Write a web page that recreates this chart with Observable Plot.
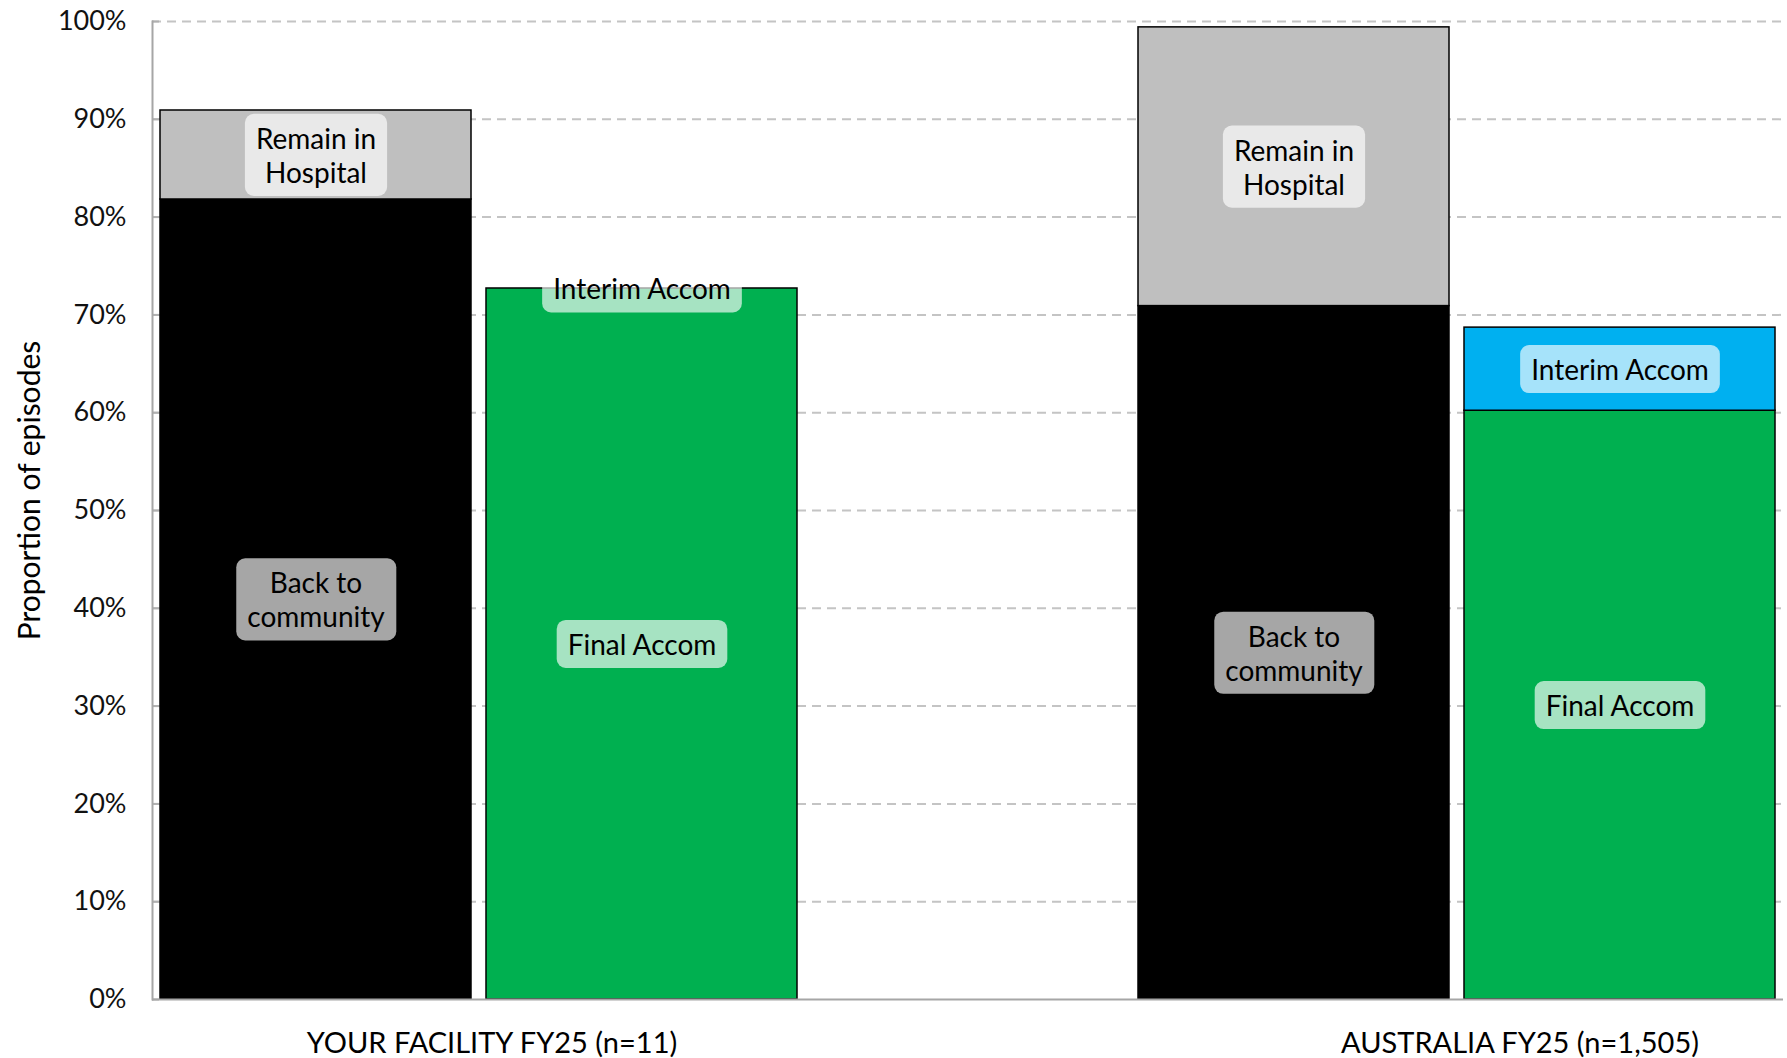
<!DOCTYPE html>
<html>
<head>
<meta charset="utf-8">
<script src="https://cdn.jsdelivr.net/npm/d3@7"></script>
<script src="https://cdn.jsdelivr.net/npm/@observablehq/plot@0.6"></script>
<style>
  body { margin: 0; background: #fff; }
  #chart svg { display: block; }
</style>
</head>
<body>
<div id="chart"></div>
<script>
// ---- data ----
const groups = ["YOUR FACILITY FY25 (n=11)", "AUSTRALIA FY25 (n=1,505)"];
const groupKeys = ["FAC", "AUS"];
const barKeys = ["Outcome", "Accom"];
const categories = ["Back to community", "Remain in Hospital", "Final Accom", "Interim Accom"];
const categoryLabels = ["Back to\ncommunity", "Remain in\nHospital", "Final Accom", "Interim Accom"];
const categoryBar = ["Outcome", "Outcome", "Accom", "Accom"];
const facilityValues = [81.8, 9.1, 72.7, 0];
const australiaValues = [70.9, 28.5, 60.2, 8.5];
const yTicks = [0, 10, 20, 30, 40, 50, 60, 70, 80, 90, 100];
const yLabel = "Proportion of episodes";

// ---- styles ----
const colorRange = ["#000000", "#bfbfbf", "#00b050", "#00b0f0"];
const FONT = "Lato, 'Open Sans', sans-serif";

const seriesValues = [facilityValues, australiaValues];
const data = groupKeys.flatMap((g, gi) =>
  categories.map((c, ci) => ({
    bar: g + "-" + categoryBar[ci],
    category: c,
    label: categoryLabels[ci],
    value: seriesValues[gi][ci]
  }))
);
const xDomain = [
  groupKeys[0] + "-" + barKeys[0], groupKeys[0] + "-" + barKeys[1],
  "gap",
  groupKeys[1] + "-" + barKeys[0], groupKeys[1] + "-" + barKeys[1]
];
const groupLabelData = groups.map((label, i) => ({label, x: groupKeys[i] + "-" + barKeys[0]}));
const groupDx = [176, 226];

const chart = Plot.plot({
  width: 1787,
  height: 1058,
  marginLeft: 152,
  marginRight: 4,
  marginTop: 21,
  marginBottom: 59,
  style: {fontFamily: FONT, background: "#fff", color: "#000"},
  x: {domain: xDomain, paddingInner: 0.046, paddingOuter: 0.0245, axis: null},
  y: {domain: [0, 100], axis: null},
  color: {domain: categories, range: colorRange},
  marks: [
    Plot.gridY(yTicks.filter(t => t > 0), {stroke: "#c4c4c4", strokeOpacity: 1, strokeWidth: 2, strokeDasharray: "9,6"}),
    Plot.axisY(yTicks, {tickSize: -7, tickFormat: () => "", stroke: "#b0b0b0", strokeWidth: 2, label: null}),
    Plot.axisY(yTicks, {tickFormat: d => d + "%", tickSize: 0, tickPadding: 26, fontSize: 27, label: null, fill: "#111"}),
    Plot.barY(data, {x: "bar", y: "value", z: "category", fill: "category", stroke: "#000", strokeWidth: 1.5}),
    Plot.ruleY([0], {stroke: "#a6a6a6", strokeWidth: 2}),
    Plot.frame({anchor: "left", stroke: "#a6a6a6", strokeWidth: 2}),
    Plot.text(data, Plot.stackY({
      x: "bar", y: "value", z: "category", text: "label",
      className: "seg-label", fontSize: 28, lineHeight: 1.22, fill: "#000"
    })),
    ...groupLabelData.map((d, i) => Plot.text([d], {
      x: "x", text: "label", frameAnchor: "bottom", dy: 53, dx: groupDx[i],
      fontSize: 29, fill: "#000"
    })),
    Plot.text([yLabel], {
      text: d => d, frameAnchor: "left", textAnchor: "middle", rotate: -90, dx: -122, dy: -20,
      fontSize: 30, fill: "#000"
    })
  ]
});

document.getElementById("chart").appendChild(chart);

// rounded semi-transparent label boxes behind segment labels
chart.querySelectorAll(".seg-label text").forEach(t => {
  const b = t.getBBox();
  const padX = 11, padY = 7;
  const r = document.createElementNS("http://www.w3.org/2000/svg", "rect");
  r.setAttribute("x", b.x - padX);
  r.setAttribute("y", b.y - padY);
  r.setAttribute("width", b.width + 2 * padX);
  r.setAttribute("height", b.height + 2 * padY);
  r.setAttribute("rx", 9);
  r.setAttribute("fill", "#fff");
  r.setAttribute("fill-opacity", 0.65);
  const tr = t.getAttribute("transform");
  if (tr) r.setAttribute("transform", tr);
  t.parentNode.insertBefore(r, t);
});
</script>
</body>
</html>
